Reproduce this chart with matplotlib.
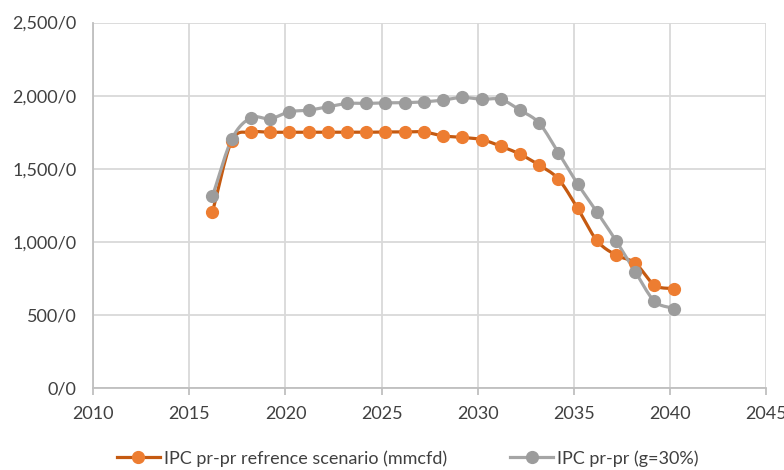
import numpy as np
import matplotlib
matplotlib.use("Agg")
import matplotlib.pyplot as plt
from matplotlib.ticker import FuncFormatter

# production profiles, one point per year
years = np.arange(2016, 2041) + 0.2
reference = [1205, 1690, 1750, 1750, 1750, 1750, 1750, 1750, 1750, 1752, 1752, 1752,
             1725, 1715, 1700, 1655, 1600, 1525, 1430, 1230, 1010, 910, 855, 705, 680]
growth30 = [1313, 1701, 1849, 1842, 1890, 1901, 1924, 1947, 1947, 1951, 1952, 1958,
            1970, 1988, 1975, 1975, 1901, 1812, 1610, 1397, 1206, 1008, 796, 595, 545]
ref_label = "IPC pr-pr refrence scenario (mmcfd)"
g30_label = "IPC pr-pr (g=30%)"


def smooth(x, y, n=12):
    # Catmull-Rom curve through the points (like Excel's smoothed line)
    x = np.asarray(x, float)
    y = np.asarray(y, float)
    px = np.concatenate([[2 * x[0] - x[1]], x, [2 * x[-1] - x[-2]]])
    py = np.concatenate([[2 * y[0] - y[1]], y, [2 * y[-1] - y[-2]]])
    t = np.linspace(0, 1, n, endpoint=False)[:, None]
    out_x, out_y = [], []
    for i in range(1, len(px) - 2):
        for p, out in ((px, out_x), (py, out_y)):
            p0, p1, p2, p3 = p[i - 1], p[i], p[i + 1], p[i + 2]
            v = 0.5 * ((2 * p1) + (-p0 + p2) * t + (2 * p0 - 5 * p1 + 4 * p2 - p3) * t ** 2
                       + (-p0 + 3 * p1 - 3 * p2 + p3) * t ** 3)
            out.extend(v.ravel())
    out_x.append(x[-1])
    out_y.append(y[-1])
    return np.array(out_x), np.array(out_y)


plt.rcParams["font.family"] = ["Lato", "DejaVu Sans"]

fig = plt.figure(figsize=(7.84, 4.70), dpi=100)
ax = fig.add_axes([0.119, 0.174, 0.858, 0.778])

orange_line, orange_dot = "#C55A11", "#ED7D31"
gray_line, gray_dot = "#A5A5A5", "#9C9C9C"

sx, sy = smooth(years, reference)
ax.plot(sx, sy, color=orange_line, lw=2.3, zorder=3)
ax.plot(years, reference, "o", color=orange_dot, ms=8.5, zorder=4)

sx, sy = smooth(years, growth30)
ax.plot(sx, sy, color=gray_line, lw=2.3, zorder=3)
ax.plot(years, growth30, "o", color=gray_dot, ms=8.5, zorder=4)

ax.set_xlim(2010, 2045)
ax.set_ylim(0, 2500)
ax.set_xticks(range(2010, 2046, 5))
ax.set_yticks(range(0, 2501, 500))
ax.yaxis.set_major_formatter(FuncFormatter(lambda v, p: f"{int(v):,}/0"))

ax.grid(True, color="#D9D9D9", lw=1.3)
ax.set_axisbelow(True)
for s in ["top", "right"]:
    ax.spines[s].set_visible(False)
ax.spines["left"].set_color("#BFBFBF")
ax.spines["bottom"].set_color("#BFBFBF")
ax.spines["left"].set_linewidth(1.3)
ax.spines["bottom"].set_linewidth(1.3)
ax.tick_params(axis="y", length=0, pad=12, labelsize=13, labelcolor="#404040")
ax.tick_params(axis="x", length=5, width=1.3, color="#BFBFBF", pad=8,
               labelsize=13, labelcolor="#404040")

handles = [
    plt.Line2D([], [], color=orange_line, lw=2.3, marker="o", ms=8.5,
               markerfacecolor=orange_dot, markeredgecolor=orange_dot),
    plt.Line2D([], [], color=gray_line, lw=2.3, marker="o", ms=8.5,
               markerfacecolor=gray_dot, markeredgecolor=gray_dot),
]
fig.legend(handles, [ref_label, g30_label], loc="center", bbox_to_anchor=(0.52, 0.025),
           ncol=2, frameon=False, fontsize=13, handlelength=2.4, handletextpad=0.2,
           columnspacing=3.5, labelcolor="#404040")

fig.savefig("out.png", dpi=100)
